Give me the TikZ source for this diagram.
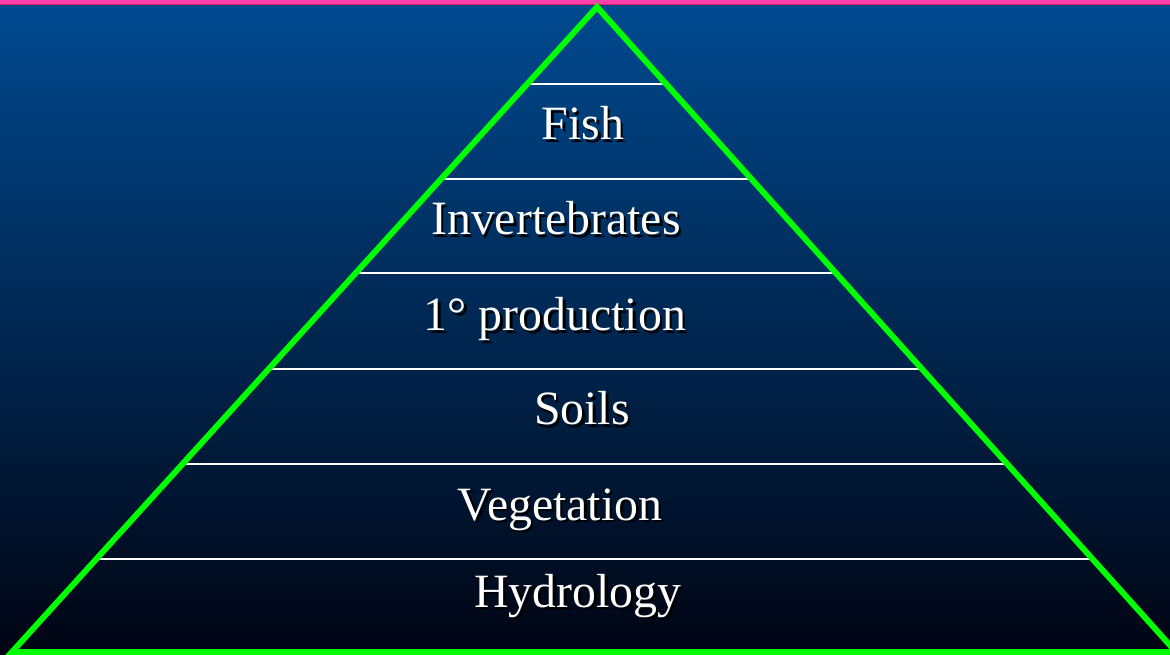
\documentclass[tikz,border=0pt]{standalone}
\usepackage{fontspec}
\setmainfont{Liberation Serif}
\usepackage{tikz}
\usetikzlibrary{calc}
\definecolor{slidetop}{RGB}{0,74,145}
\definecolor{slidebot}{RGB}{0,4,18}
\definecolor{barpink}{RGB}{255,64,170}
\definecolor{barred}{RGB}{225,30,90}
\definecolor{pyrgreen}{RGB}{0,255,0}
\tikzset{
  layer/.style={text=white, font=\fontsize{34}{40}\selectfont, inner sep=0pt, anchor=base},
  shadow/.style={text=black, font=\fontsize{34}{40}\selectfont, inner sep=0pt, anchor=base},
  divider/.style={white, line width=1.5pt},
  edge/.style={pyrgreen, line width=4.2pt, line join=miter}
}

\begin{document}
\begin{tikzpicture}[x=0.025cm, y=-0.025cm]
  \useasboundingbox (0,0) rectangle (1170,655);
  \clip (0,0) rectangle (1170,655);

  % Background
  \shade[top color=slidetop, bottom color=slidebot] (0,0) rectangle (1170,655);
  \fill[barpink] (0,0) rectangle (1170,4);
  \fill[barred] (0,4) rectangle (1170,5.5);

  % Corners of the pyramid
  \coordinate (apex) at (597,7);
  \coordinate (bl) at (12,652);
  \coordinate (br) at (1176,652);

  % Dividers between levels
  \foreach \t [count=\i] in {0.1196,0.2671,0.4130,0.5606,0.7081,0.8556} {
    \draw[divider] ($(apex)!\t!(bl)$) -- ($(apex)!\t!(br)$);
  }

  % Levels, each with a drop shadow
  \foreach \name/\x/\y/\txt in {fish/583/140/Fish, invert/556/235/Invertebrates,
      prod/555/331/{1\textdegree\ production}, soils/582/425/Soils,
      veg/560/520/Vegetation, hydro/578/607/Hydrology} {
    \node[shadow] (\name-sh) at (\x+2.5,\y+2.5) {\txt};
    \node[layer] (\name) at (\x,\y) {\txt};
  }

  % Outline
  \draw[edge] (apex) -- (bl) -- (br) -- cycle;
\end{tikzpicture}
\end{document}
